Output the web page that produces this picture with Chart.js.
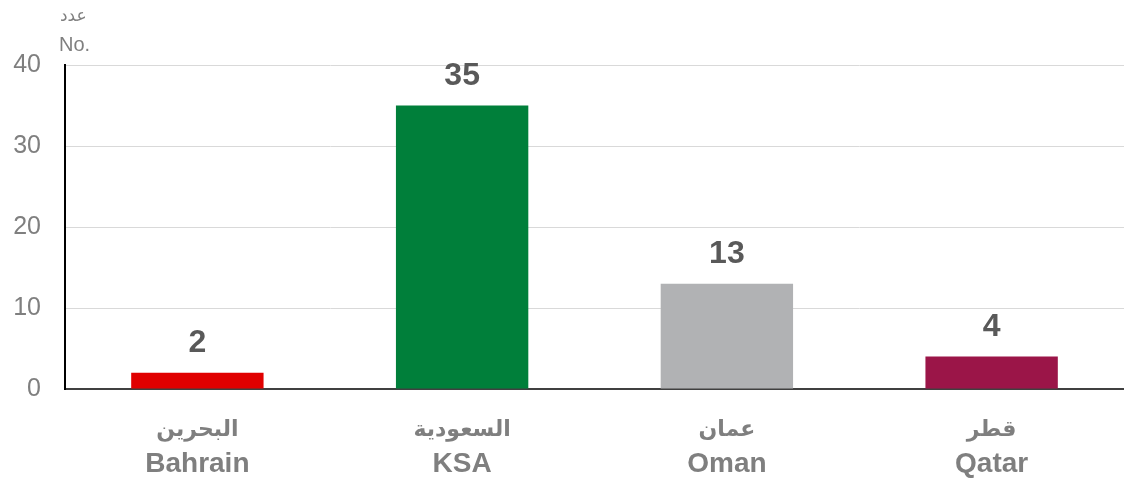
<!DOCTYPE html>
<html>
<head>
<meta charset="utf-8">
<script src="https://cdn.jsdelivr.net/npm/chart.js@4/dist/chart.umd.min.js"></script>
<style>
html,body{margin:0;padding:0;background:#fff;}
#wrap{width:1124px;height:479px;position:relative;}
</style>
</head>
<body>
<div id="wrap"><canvas id="c" width="1124" height="479"></canvas></div>
<script>
const categoriesAr = ["البحرين", "السعودية", "عمان", "قطر"];
const categoriesEn = ["Bahrain", "KSA", "Oman", "Qatar"];
const values = [2, 35, 13, 4];
const barColors = ["#e00000", "#007f3a", "#b1b2b4", "#9b1548"];
const yTicks = [0, 10, 20, 30, 40];
const axisTitleAr = "عدد";
const axisTitleEn = "No.";

const FONT = "'Liberation Sans', Arial, sans-serif";
const FONT_AR = "'DejaVu Sans', sans-serif";

const labelsPlugin = {
  id: 'labelsPlugin',
  afterDatasetsDraw(chart) {
    const ctx = chart.ctx;
    const meta = chart.getDatasetMeta(0);
    const xs = chart.scales.x;
    ctx.save();
    // value labels
    ctx.fillStyle = '#595959';
    ctx.font = 'bold 32px ' + FONT;
    ctx.textAlign = 'center';
    ctx.textBaseline = 'alphabetic';
    meta.data.forEach((bar, i) => {
      ctx.fillText(String(values[i]), bar.x, bar.y - 21);
    });
    // category labels (two lines)
    ctx.fillStyle = '#7f7f7f';
    categoriesEn.forEach((en, i) => {
      const x = xs.getPixelForTick(i);
      ctx.font = 'bold 22px ' + FONT_AR;
      ctx.fillText(categoriesAr[i], x, 436);
      ctx.font = 'bold 28px ' + FONT;
      ctx.fillText(en, x, 472);
    });
    // axis title
    ctx.textAlign = 'left';
    ctx.font = '17px ' + FONT_AR;
    ctx.fillText(axisTitleAr, 60, 21);
    ctx.font = '20px ' + FONT;
    ctx.fillText(axisTitleEn, 59, 51);
    ctx.restore();
  }
};

new Chart(document.getElementById('c'), {
  type: 'bar',
  data: {
    labels: categoriesEn,
    datasets: [{
      data: values,
      backgroundColor: barColors,
      borderWidth: 0,
      categoryPercentage: 1.0,
      barPercentage: 0.5
    }]
  },
  options: {
    responsive: false,
    animation: false,
    devicePixelRatio: 1,
    layout: { padding: { top: 65, right: -6, bottom: 90, left: 0 } },
    plugins: { legend: { display: false }, tooltip: { enabled: false } },
    scales: {
      x: {
        grid: { display: false, drawTicks: false },
        border: { display: true, color: '#404040', width: 2 },
        ticks: { display: false }
      },
      y: {
        min: 0, max: 40,
        afterBuildTicks(scale) { scale.ticks = yTicks.map(v => ({ value: v })); },
        afterFit(scale) { scale.width = 65; },
        grid: { color: '#d9d9d9', lineWidth: 1, drawTicks: false },
        border: { display: true, color: '#000000', width: 2 },
        ticks: {
          color: '#7f7f7f',
          font: { family: FONT, size: 25 },
          padding: 24
        }
      }
    }
  },
  plugins: [labelsPlugin]
});
</script>
</body>
</html>
